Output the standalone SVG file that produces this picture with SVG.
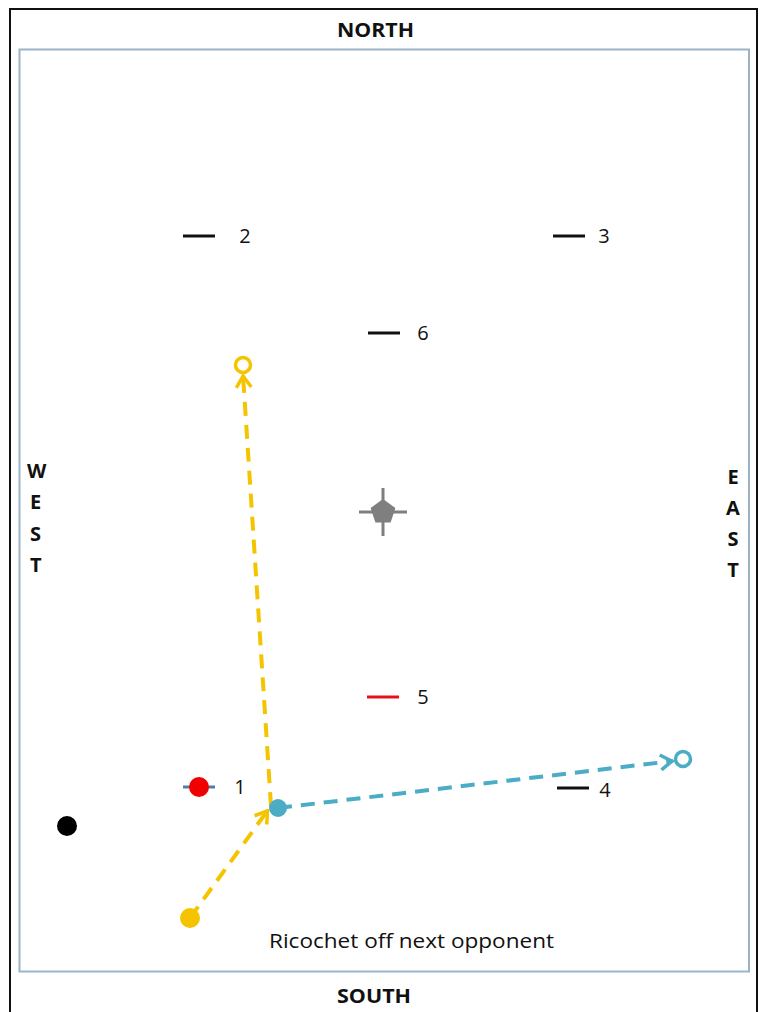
<svg xmlns="http://www.w3.org/2000/svg" width="761" height="1012" viewBox="0 0 761 1012">
<style>
.lbl{font-family:"Open Sans","Liberation Sans",sans-serif;font-size:20px;fill:#111}
.dir{font-family:"Open Sans","Liberation Sans",sans-serif;font-size:20px;font-weight:bold;fill:#111}
.mark{stroke:#111;stroke-width:3}
.yel{stroke:#F5C400;stroke-width:4;fill:none;stroke-dasharray:14 9}
.blu{stroke:#4BACC6;stroke-width:4;fill:none;stroke-dasharray:14 9}
</style>
<defs>
<marker id="chevY" viewBox="0 0 15 18" refX="14" refY="9" markerWidth="15" markerHeight="18" markerUnits="userSpaceOnUse" orient="auto">
<path d="M1.5,1.5 L13,9 L1.5,16.5" fill="none" stroke="#F5C400" stroke-width="3.5"/>
</marker>
<marker id="chevB" viewBox="0 0 15 18" refX="14" refY="9" markerWidth="15" markerHeight="18" markerUnits="userSpaceOnUse" orient="auto">
<path d="M1.5,1.5 L13,9 L1.5,16.5" fill="none" stroke="#4BACC6" stroke-width="3.5"/>
</marker>
</defs>
<rect x="0" y="0" width="761" height="1012" fill="#fff"/>
<rect id="outer" x="10" y="9" width="747" height="1010" fill="none" stroke="#111" stroke-width="2"/>
<rect id="field" x="19.5" y="49.5" width="729.5" height="922" fill="none" stroke="#9AB3C6" stroke-width="2"/>
<g id="labels">
<text class="dir" x="337" y="37" font-size="21" textLength="77" lengthAdjust="spacingAndGlyphs">NORTH</text>
<text class="dir" x="337" y="1003" font-size="21" textLength="74" lengthAdjust="spacingAndGlyphs">SOUTH</text>
<text class="dir" x="27" y="478">W</text>
<text class="dir" x="30" y="509">E</text>
<text class="dir" x="30" y="541">S</text>
<text class="dir" x="30" y="572">T</text>
<text class="dir" x="733" y="484" text-anchor="middle">E</text>
<text class="dir" x="733" y="515" text-anchor="middle">A</text>
<text class="dir" x="733" y="546" text-anchor="middle">S</text>
<text class="dir" x="733" y="577" text-anchor="middle">T</text>
<text class="lbl" x="269" y="948" font-size="22" textLength="285" lengthAdjust="spacingAndGlyphs">Ricochet off next opponent</text>
</g>
<g id="pos2"><line class="mark" x1="183" y1="236" x2="215" y2="236"/><text class="lbl" x="245" y="243" text-anchor="middle">2</text></g>
<g id="pos3"><line class="mark" x1="553" y1="236" x2="585" y2="236"/><text class="lbl" x="604" y="243" text-anchor="middle">3</text></g>
<g id="pos6"><line class="mark" x1="368" y1="333" x2="400" y2="333"/><text class="lbl" x="423" y="340" text-anchor="middle">6</text></g>
<g id="pos5"><line x1="367" y1="697" x2="399" y2="697" stroke="#E8101A" stroke-width="3"/><text class="lbl" x="423" y="704" text-anchor="middle">5</text></g>
<g id="pos4"><line class="mark" x1="557" y1="788" x2="589" y2="788"/><text class="lbl" x="605" y="797" text-anchor="middle">4</text></g>
<g id="pos1"><line x1="183" y1="787" x2="215" y2="787" stroke="#4F7FA8" stroke-width="3"/><circle cx="199" cy="787" r="10" fill="#F00000"/><text class="lbl" x="240" y="794" text-anchor="middle">1</text></g>
<g id="black-player"><circle cx="67" cy="826" r="10" fill="#000"/></g>
<g id="target"><line x1="359" y1="512" x2="407" y2="512" stroke="#7F7F7F" stroke-width="3"/><line x1="383" y1="488" x2="383" y2="536" stroke="#7F7F7F" stroke-width="3"/><polygon points="383,499 395.4,508 390.6,522.5 375.4,522.5 370.6,508" fill="#7F7F7F"/></g>
<g id="connectors">
<path class="yel" d="M190,918 L268,810" marker-end="url(#chevY)"/>
<path class="yel" d="M271,806 L243,375" marker-end="url(#chevY)"/>
<path class="blu" d="M278,808 L673,761" marker-end="url(#chevB)"/>
</g>
<g id="yellow-start"><circle cx="190" cy="918" r="10" fill="#F5C400"/></g>
<g id="yellow-end"><circle cx="243" cy="365" r="7.5" fill="none" stroke="#F5C400" stroke-width="3.5"/></g>
<g id="blue-ball"><circle cx="278" cy="808" r="9" fill="#4BACC6"/></g>
<g id="blue-end"><circle cx="683" cy="759" r="7.5" fill="none" stroke="#4BACC6" stroke-width="3.5"/></g>
</svg>
